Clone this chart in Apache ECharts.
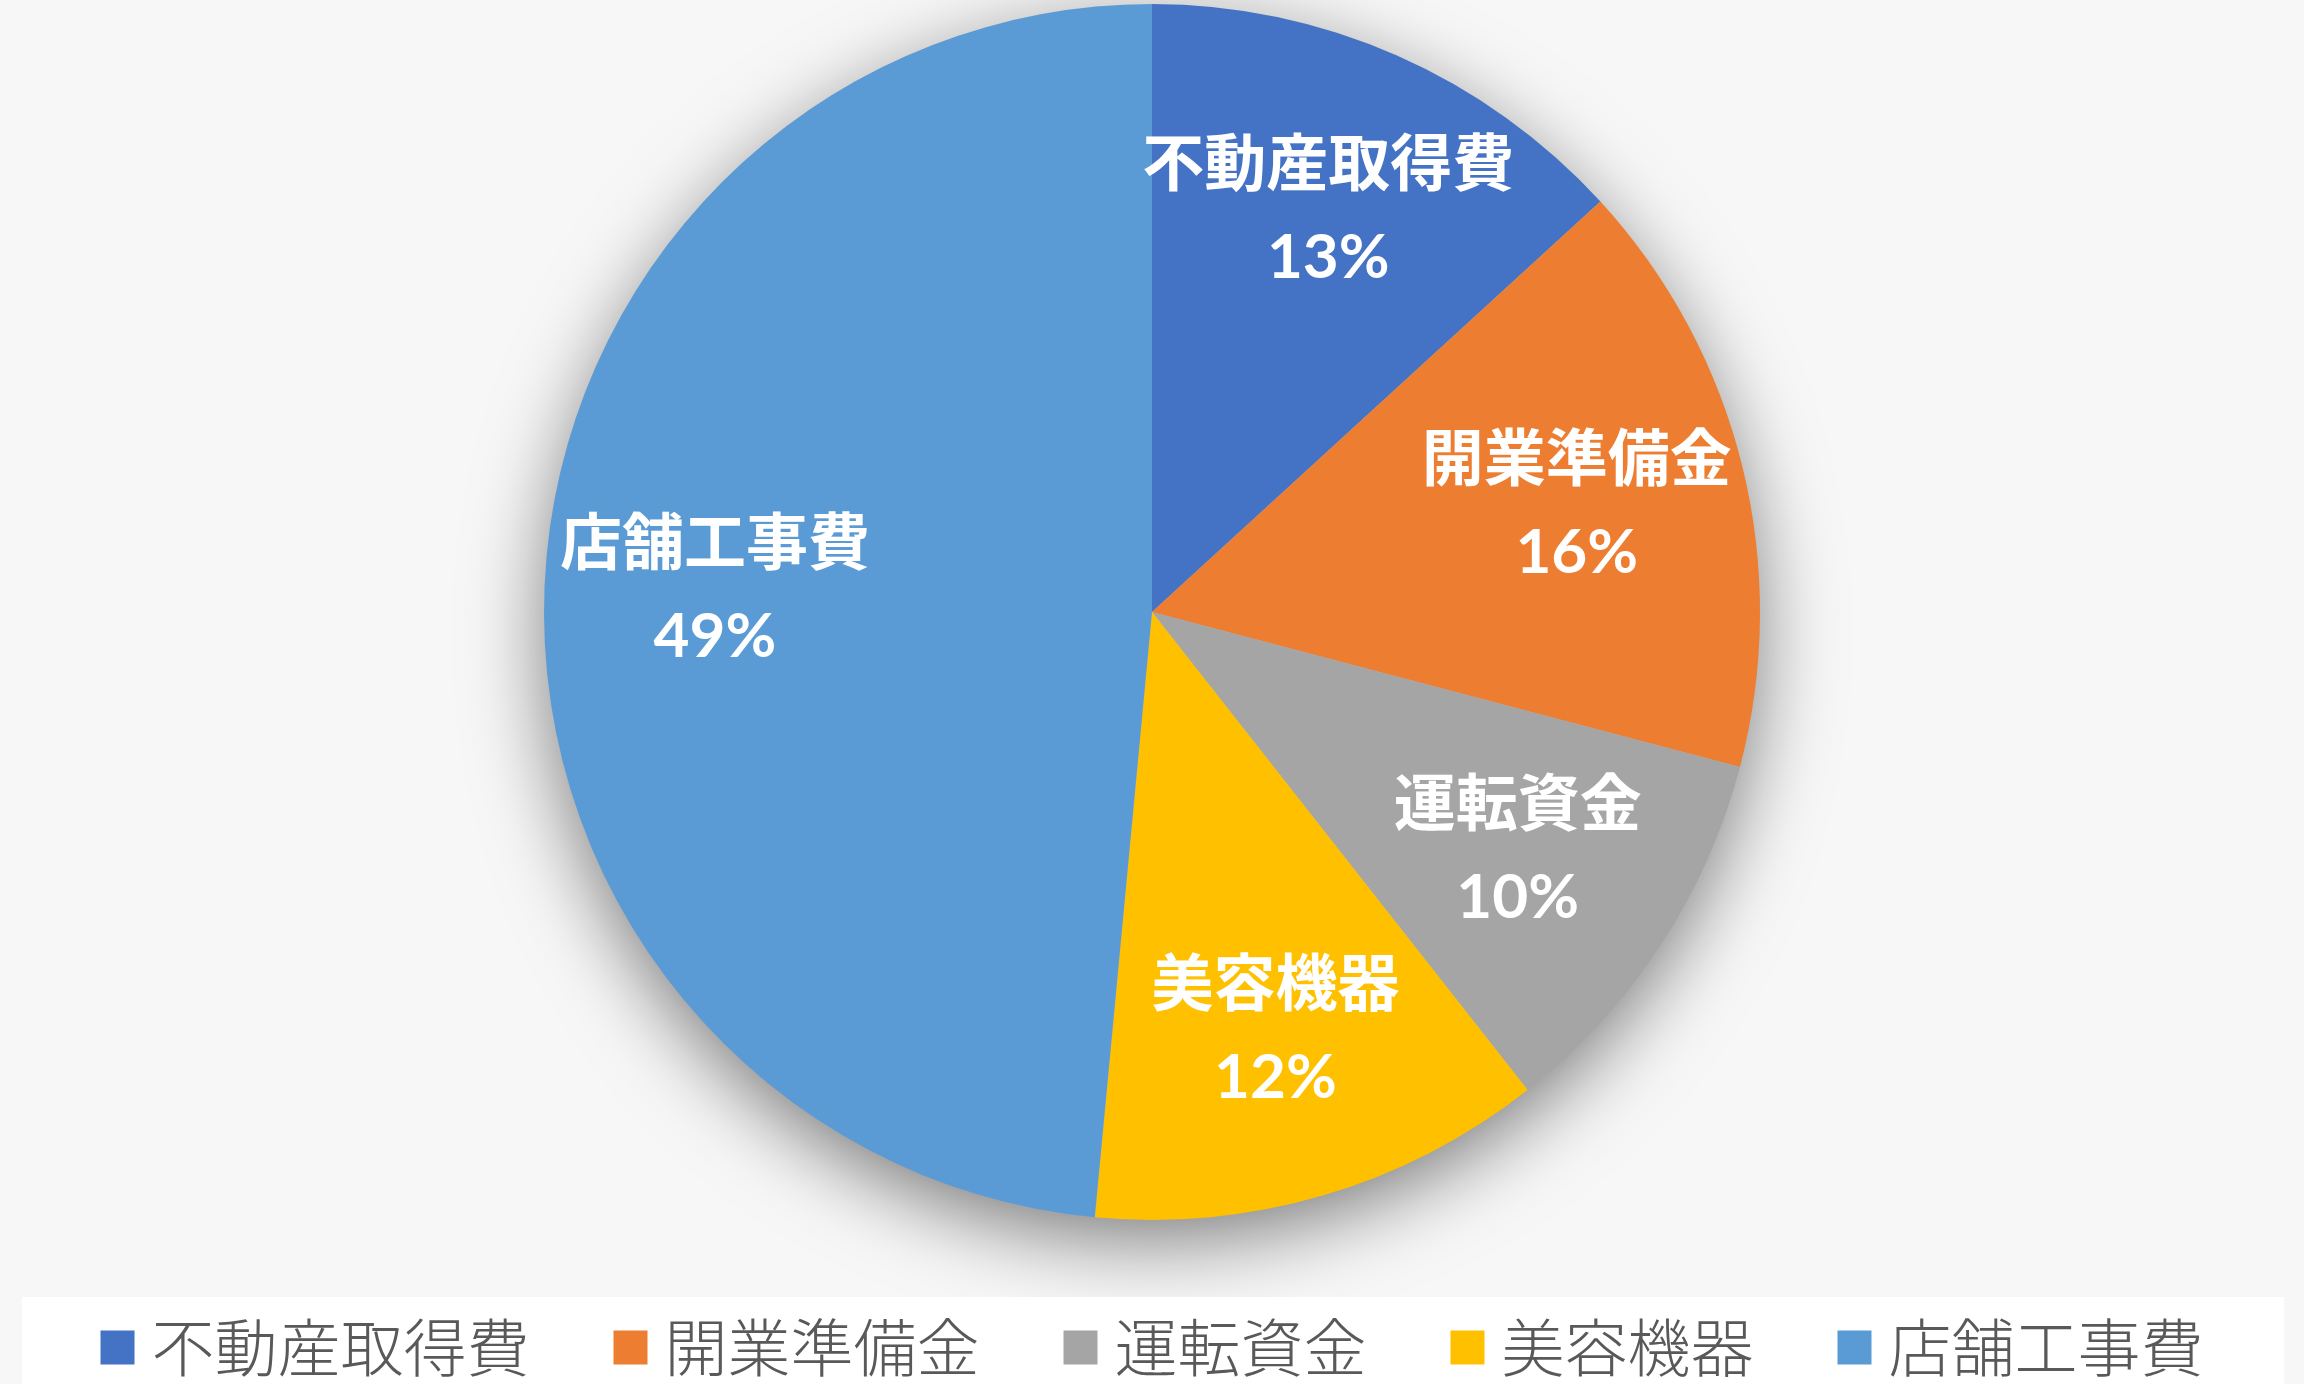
<!DOCTYPE html>
<html lang="ja">
<head>
<meta charset="UTF-8">
<title>開業資金の内訳</title>
<script src="https://cdn.jsdelivr.net/npm/echarts@6/dist/echarts.min.js"></script>
<style>
  html, body { margin: 0; padding: 0; background: #f7f7f7; }
  #chart { width: 2304px; height: 1384px; }
</style>
</head>
<body>
<div id="chart"></div>
<script>
// 内訳（%）— 扇形の角度から読んだ値
var categories = ['不動産取得費', '開業準備金', '運転資金', '美容機器', '店舗工事費'];
var shares = [13.2, 15.9, 10.3, 12.1, 48.5];
var colors = ['#4472C4', '#ED7D31', '#A5A5A5', '#FFC000', '#5B9BD5'];

var cx = 1152, cy = 612, R = 608;

var pieData = categories.map(function (name, i) {
    return { name: name, value: shares[i], itemStyle: { color: colors[i] } };
});
var labelData = categories.map(function (name, i) {
    return { name: name, value: shares[i] };
});

var chart = echarts.init(document.getElementById('chart'));
chart.setOption({
    backgroundColor: '#f7f7f7',
    animation: false,
    graphic: [
        {
            type: 'circle',
            z: 0,
            shape: { cx: cx, cy: cy, r: R - 2 },
            style: {
                fill: '#bbbbbb',
                shadowBlur: 80,
                shadowOffsetY: 22,
                shadowColor: 'rgba(0,0,0,0.5)'
            }
        },
        {
            type: 'rect',
            z: 0,
            shape: { x: 22, y: 1297, width: 2262, height: 90 },
            style: { fill: '#ffffff' }
        }
    ],
    legend: {
        data: categories,
        top: 1311,
        left: 'center',
        icon: 'rect',
        itemWidth: 34,
        itemHeight: 34,
        itemGap: 84,
        textStyle: {
            fontFamily: '"Noto Sans CJK JP", sans-serif',
            fontWeight: 300,
            fontSize: 63,
            color: '#595959',
            padding: [0, 0, 0, 12]
        }
    },
    series: [
        {
            type: 'pie',
            center: [cx, cy],
            radius: [0, R],
            startAngle: 90,
            z: 2,
            label: { show: false },
            labelLine: { show: false },
            emphasis: { disabled: true },
            data: pieData
        },
        {
            // ラベル配置用の透明リング
            type: 'pie',
            center: [cx, cy],
            radius: [Math.round(R * 0.43), R],
            startAngle: 90,
            z: 3,
            silent: true,
            avoidLabelOverlap: false,
            itemStyle: { color: 'rgba(0,0,0,0)' },
            emphasis: { disabled: true },
            labelLine: { show: false },
            labelLayout: { hideOverlap: false },
            label: {
                show: true,
                position: 'inside',
                color: '#ffffff',
                fontWeight: 'bold',
                fontSize: 62,
                lineHeight: 92,
                fontFamily: 'Lato, "Noto Sans CJK JP", sans-serif',
                formatter: function (p) {
                    return p.name + '\n' + Math.round(p.percent) + '%';
                }
            },
            data: labelData
        }
    ]
});
</script>
</body>
</html>
